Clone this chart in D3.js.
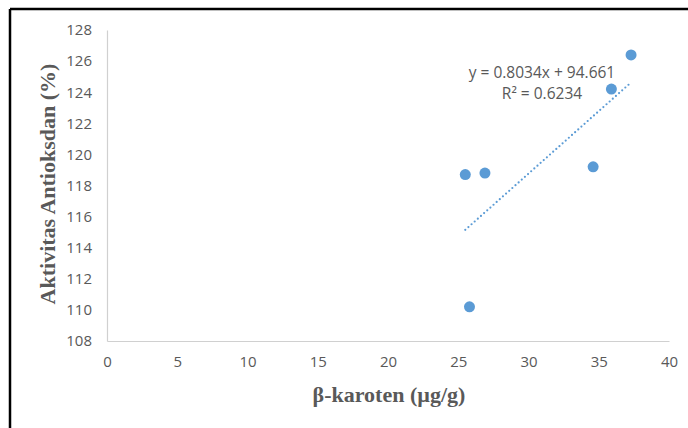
<!DOCTYPE html>
<html>
<head>
<meta charset="utf-8">
<script src="https://cdn.jsdelivr.net/npm/d3@7"></script>
<style>
  body { margin: 0; background: #fff; }
  svg { display: block; }
</style>
</head>
<body>
<svg id="chart" width="688" height="428"></svg>
<script>
// data
const betaKaroten = [25.5, 26.9, 25.8, 34.6, 35.9, 37.3];
const aktivitas   = [118.7, 118.8, 110.2, 119.2, 124.2, 126.4];
const xTicks = [0, 5, 10, 15, 20, 25, 30, 35, 40];
const yTicks = [108, 110, 112, 114, 116, 118, 120, 122, 124, 126, 128];
const trendSlope = 0.8034;
const trendIntercept = 94.661;
const rSquared = 0.6234;

const svg = d3.select("#chart");
const width = +svg.attr("width");
const height = +svg.attr("height");

// frame: only left and top edges visible
svg.append("line").attr("x1", 10).attr("y1", 9).attr("x2", width).attr("y2", 9)
  .attr("stroke", "#000").attr("stroke-width", 2.5);
svg.append("line").attr("x1", 10).attr("y1", 9).attr("x2", 10).attr("y2", height)
  .attr("stroke", "#000").attr("stroke-width", 2.5);

// scales
const xScale = d3.scaleLinear().domain([0, 40]).range([107, 669]);
const yScale = d3.scaleLinear().domain([108, 128]).range([341, 30]);

// axes
const xAxis = svg.append("g")
  .attr("transform", `translate(0,${yScale(108)})`)
  .call(d3.axisBottom(xScale).tickValues(xTicks).tickSize(0).tickPadding(15));
const yAxis = svg.append("g")
  .attr("transform", `translate(${xScale(0)},0)`)
  .call(d3.axisLeft(yScale).tickValues(yTicks).tickSize(0).tickPadding(15));

[xAxis, yAxis].forEach(ax => {
  ax.select(".domain").attr("stroke", "#d0d0d0").attr("stroke-width", 1.2);
  ax.selectAll("text")
    .attr("fill", "#595959")
    .style("font-family", "'Open Sans', 'Liberation Sans', sans-serif")
    .style("font-size", "15px");
});

// trendline over the data's x range
const xExt = d3.extent(betaKaroten);
svg.append("line")
  .attr("x1", xScale(xExt[0]))
  .attr("y1", yScale(trendSlope * xExt[0] + trendIntercept))
  .attr("x2", xScale(xExt[1]))
  .attr("y2", yScale(trendSlope * xExt[1] + trendIntercept))
  .attr("stroke", "#5b9bd5")
  .attr("stroke-width", 2.2)
  .attr("stroke-linecap", "round")
  .attr("stroke-dasharray", "0,4.2");

// points
svg.selectAll("circle.pt")
  .data(betaKaroten.map((x, i) => ({ x, y: aktivitas[i] })))
  .enter()
  .append("circle")
  .attr("class", "pt")
  .attr("cx", d => xScale(d.x))
  .attr("cy", d => yScale(d.y))
  .attr("r", 5.5)
  .attr("fill", "#5b9bd5");

// equation label
const eq = svg.append("g")
  .attr("fill", "#595959")
  .style("font-family", "'Open Sans', 'Liberation Sans', sans-serif")
  .style("font-size", "15.5px")
  .attr("text-anchor", "middle");
eq.append("text").attr("x", 542).attr("y", 78)
  .text(`y = ${trendSlope}x + ${trendIntercept}`);
eq.append("text").attr("x", 542).attr("y", 99)
  .text(`R² = ${rSquared}`);

// axis titles
const titleFont = "'Liberation Serif', 'Times New Roman', serif";
svg.append("text")
  .attr("x", 389).attr("y", 402)
  .attr("text-anchor", "middle")
  .attr("fill", "#595959")
  .style("font-family", titleFont)
  .style("font-weight", "bold")
  .style("font-size", "22px")
  .text("β-karoten (µg/g)");

svg.append("text")
  .attr("transform", "translate(55,184) rotate(-90)")
  .attr("text-anchor", "middle")
  .attr("fill", "#595959")
  .style("font-family", titleFont)
  .style("font-weight", "bold")
  .style("font-size", "22px")
  .text("Aktivitas Antioksdan (%)");
</script>
</body>
</html>
